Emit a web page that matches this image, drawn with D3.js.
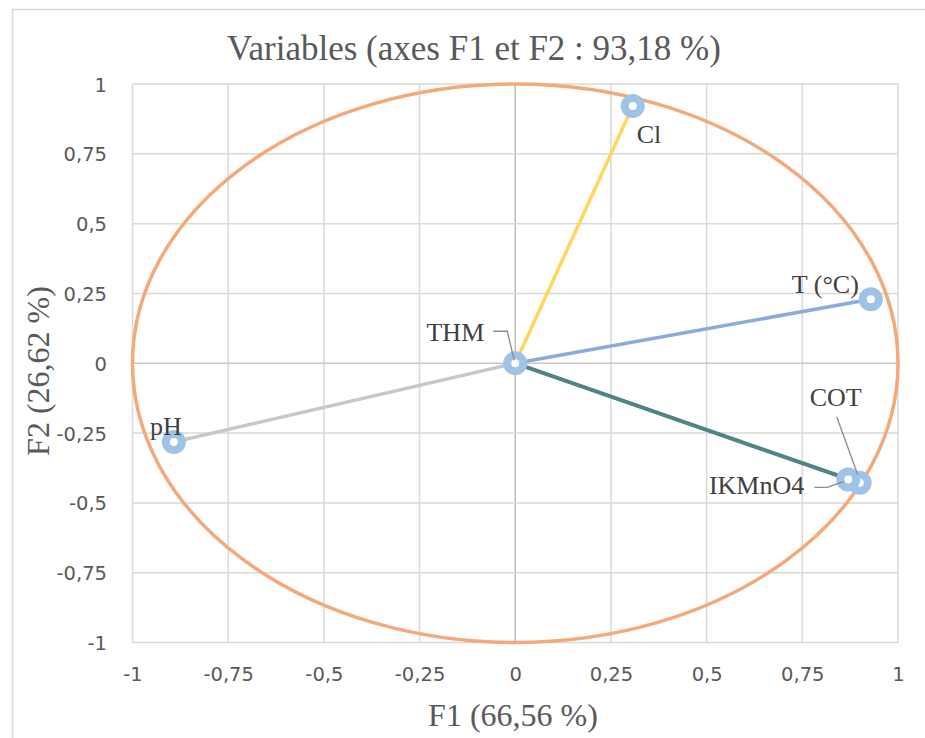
<!DOCTYPE html>
<html>
<head>
<meta charset="utf-8">
<script src="https://cdn.jsdelivr.net/npm/d3@7"></script>
<style>
  body { margin: 0; background: #fff; }
  svg { display: block; }
</style>
</head>
<body>
<div id="chart"></div>
<script>
  var variables, f1, f2, lineColors, tickValues, labelStyle, width, height, svg, x, y, plot, fmt, pts;

  // data
  variables = ["Cl", "T (°C)", "THM", "pH", "COT", "IKMnO4"];
  f1 = [0.307, 0.929, 0.000, -0.892, 0.900, 0.870];
  f2 = [0.921, 0.229, 0.000, -0.282, -0.428, -0.416];
  tickValues = [-1, -0.75, -0.5, -0.25, 0, 0.25, 0.5, 0.75, 1];
  lineColors = ["#ffd75e", "#8eaadb", "#c9c9c9", "#c8c8c8", "#548789", "#508486"];

  // label placement relative to each point (pixels)
  labelStyle = [
    { dx: 4, dy: 37, anchor: "start", leader: null },
    { dx: -12, dy: -6, anchor: "end", leader: null },
    { dx: -31, dy: -22, anchor: "end", leader: [[-22, -32], [-8, -32], [-1, -3]] },
    { dx: -8, dy: -7, anchor: "middle", leader: null },
    { dx: -24, dy: -77, anchor: "middle", leader: [[-23, -66], [-2, -8]] },
    { dx: -44, dy: 15, anchor: "end", leader: [[-34, 8], [-21, 8], [-4, 2]] }
  ];

  width = 925;
  height = 738;

  svg = d3.select("#chart").append("svg").attr("width", width).attr("height", height);

  svg.append("rect").attr("x", 12.5).attr("y", 9.5).attr("width", 940).attr("height", 760)
    .style("fill", "#fff").style("stroke", "#d9d9d9").style("stroke-width", 1.5);

  x = d3.scaleLinear().domain([-1, 1]).range([132.5, 898]);
  y = d3.scaleLinear().domain([-1, 1]).range([642.5, 84]);

  fmt = function(d) { return String(d).replace(".", ","); };

  plot = svg.append("g");

  // grid
  plot.selectAll("line.vgrid").data(tickValues).enter().append("line")
    .attr("x1", function(d) { return x(d); }).attr("x2", function(d) { return x(d); })
    .attr("y1", y(1)).attr("y2", y(-1))
    .style("stroke", function(d) { return d === 0 ? "#bdbdbd" : "#d9d9d9"; })
    .style("stroke-width", 1.5);
  plot.selectAll("line.hgrid").data(tickValues).enter().append("line")
    .attr("y1", function(d) { return y(d); }).attr("y2", function(d) { return y(d); })
    .attr("x1", x(-1)).attr("x2", x(1))
    .style("stroke", function(d) { return d === 0 ? "#c8c8c8" : "#d9d9d9"; })
    .style("stroke-width", 1.5);

  // tick labels
  svg.append("g").attr("transform", "translate(0," + (y(-1) + 38) + ")")
    .call(d3.axisBottom(x).tickValues(tickValues).tickFormat(fmt).tickSize(0).tickPadding(0))
    .call(function(g) {
      g.select(".domain").remove();
      g.selectAll("text").attr("dy", null).attr("y", 0)
        .style("font-family", "'DejaVu Sans', sans-serif").style("font-size", "19.5px").style("fill", "#595959");
    });
  svg.append("g").attr("transform", "translate(" + 107 + ",0)")
    .call(d3.axisLeft(y).tickValues(tickValues).tickFormat(fmt).tickSize(0).tickPadding(0))
    .call(function(g) {
      g.select(".domain").remove();
      g.selectAll("text").attr("dy", "0.36em")
        .style("font-family", "'DejaVu Sans', sans-serif").style("font-size", "19.5px").style("fill", "#595959");
    });

  // correlation circle
  plot.append("ellipse")
    .attr("cx", x(0)).attr("cy", y(0))
    .attr("rx", x(1) - x(0)).attr("ry", y(0) - y(1))
    .style("fill", "none").style("stroke", "#f4a97a").style("stroke-width", 3.5);

  pts = variables.map(function(v, i) {
    return { name: v, px: x(f1[i]), py: y(f2[i]), color: lineColors[i], st: labelStyle[i] };
  });

  // vectors
  plot.selectAll("line.vec").data(pts).enter().append("line")
    .attr("x1", x(0)).attr("y1", y(0))
    .attr("x2", function(d) { return d.px; }).attr("y2", function(d) { return d.py; })
    .style("stroke", function(d) { return d.color; })
    .style("stroke-width", 3.5);

  // markers
  plot.selectAll("circle.pt").data(pts).enter().append("circle")
    .attr("cx", function(d) { return d.px; }).attr("cy", function(d) { return d.py; })
    .attr("r", 8)
    .style("fill", "#fff").style("stroke", "#9dc3e6").style("stroke-width", 8);

  // leader lines
  plot.selectAll("path.leader").data(pts.filter(function(d) { return d.st.leader; })).enter().append("path")
    .attr("d", function(d) {
      return d3.line()(d.st.leader.map(function(p) { return [d.px + p[0], d.py + p[1]]; }));
    })
    .style("fill", "none").style("stroke", "#8c8c8c").style("stroke-width", 1.3);

  // labels
  plot.selectAll("text.lbl").data(pts).enter().append("text")
    .attr("x", function(d) { return d.px + d.st.dx; })
    .attr("y", function(d) { return d.py + d.st.dy; })
    .attr("text-anchor", function(d) { return d.st.anchor; })
    .style("font-family", "'Liberation Serif', serif").style("font-size", "26px").style("fill", "#404040")
    .text(function(d) { return d.name; });

  // titles
  svg.append("text").attr("x", 474).attr("y", 60).attr("text-anchor", "middle")
    .style("font-family", "'Liberation Serif', serif").style("font-size", "35px").style("fill", "#595959")
    .text("Variables (axes F1 et F2 : 93,18 %)");
  svg.append("text").attr("x", 513).attr("y", 726).attr("text-anchor", "middle")
    .style("font-family", "'Liberation Serif', serif").style("font-size", "32px").style("fill", "#595959")
    .text("F1 (66,56 %)");
  svg.append("text").attr("transform", "translate(49,371) rotate(-90)").attr("text-anchor", "middle")
    .style("font-family", "'Liberation Serif', serif").style("font-size", "32px").style("fill", "#595959")
    .text("F2 (26,62 %)");
</script>
</body>
</html>
